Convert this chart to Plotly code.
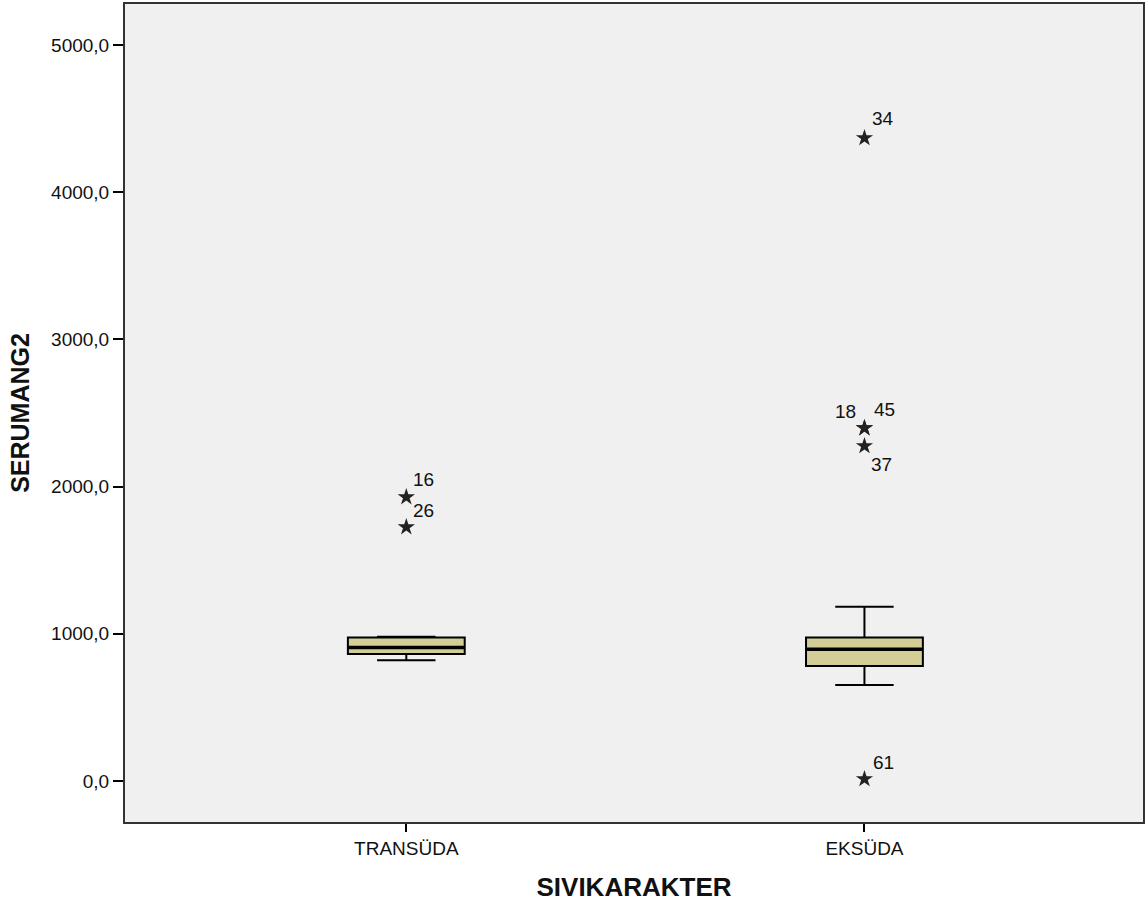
import plotly.graph_objects as go

# ---- data ----
categories = ["TRANSÜDA", "EKSÜDA"]
q1 = [863, 781]
median = [908, 895]
q3 = [975, 976]
lower_whisker = [820, 652]
upper_whisker = [980, 1184]

outlier_cat = [0, 0, 1, 1, 1, 1, 1]
outlier_values = [1929, 1725, 4368, 2398, 2398, 2276, 14]
outlier_ids = ["16", "26", "34", "18", "45", "37", "61"]

y_tickvals = [0, 1000, 2000, 3000, 4000, 5000]

# ---- styles ----
BOX_WIDTH = 0.255
FILL = "#D3CE97"
FONT = "Arial, Liberation Sans, sans-serif"
# label offsets (px) relative to the star, per case id
label_shift = {
    "16": (17, 18), "26": (17, 17), "34": (19, 19), "18": (-19, 17),
    "45": (20, 19), "37": (17, -19), "61": (19, 17),
}

fig = go.Figure()

for i, cat in enumerate(categories):
    fig.add_trace(go.Box(
        x=[i], q1=[q1[i]], median=[median[i]], q3=[q3[i]],
        lowerfence=[lower_whisker[i]], upperfence=[upper_whisker[i]],
        width=BOX_WIDTH, whiskerwidth=0.5, boxpoints=False,
        fillcolor=FILL, line=dict(color="black", width=2),
        name=cat, showlegend=False, hoverinfo="skip",
    ))
    # thicker median line
    fig.add_trace(go.Scatter(
        x=[i - BOX_WIDTH / 2, i + BOX_WIDTH / 2], y=[median[i], median[i]],
        mode="lines", line=dict(color="black", width=3.5),
        showlegend=False, hoverinfo="skip",
    ))

fig.add_trace(go.Scatter(
    x=outlier_cat, y=outlier_values, mode="markers",
    marker=dict(symbol="star", size=13, color="#222222",
                line=dict(width=0)),
    showlegend=False, hoverinfo="skip",
))

for c, v, lab in zip(outlier_cat, outlier_values, outlier_ids):
    dx, dy = label_shift[lab]
    fig.add_annotation(
        x=c, y=v, text=lab, showarrow=False, xshift=dx, yshift=dy,
        font=dict(family=FONT, size=19, color="#111111"),
    )

fig.update_layout(
    width=1145, height=915,
    margin=dict(l=125, r=0, t=4, b=93),
    paper_bgcolor="white", plot_bgcolor="#F0F0F0",
    separators=",.",
    font=dict(family=FONT, color="#111111"),
    showlegend=False,
)

fig.update_xaxes(
    range=[-0.614, 1.608], tickvals=[0, 1], ticktext=categories,
    ticks="outside", ticklen=8, tickcolor="black", tickwidth=1.5,
    showline=True, mirror=True, linecolor="#333333", linewidth=2,
    showgrid=False, zeroline=False,
    tickfont=dict(size=19, family=FONT),
    title=dict(text="<b>SIVIKARAKTER</b>", font=dict(size=26, family=FONT),
               standoff=20),
)
fig.update_yaxes(
    range=[-278, 5278], tickvals=y_tickvals, tickformat=".1f",
    ticks="outside", ticklen=10, tickcolor="black", tickwidth=1.5,
    showline=True, mirror=True, linecolor="#333333", linewidth=2,
    showgrid=False, zeroline=False,
    tickfont=dict(size=19, family=FONT),
    title=dict(text="<b>SERUMANG2</b>", font=dict(size=25, family=FONT),
               standoff=14),
)

fig.write_html("out.html", config={"displayModeBar": False},
               post_script="document.body.style.margin='0px';")
